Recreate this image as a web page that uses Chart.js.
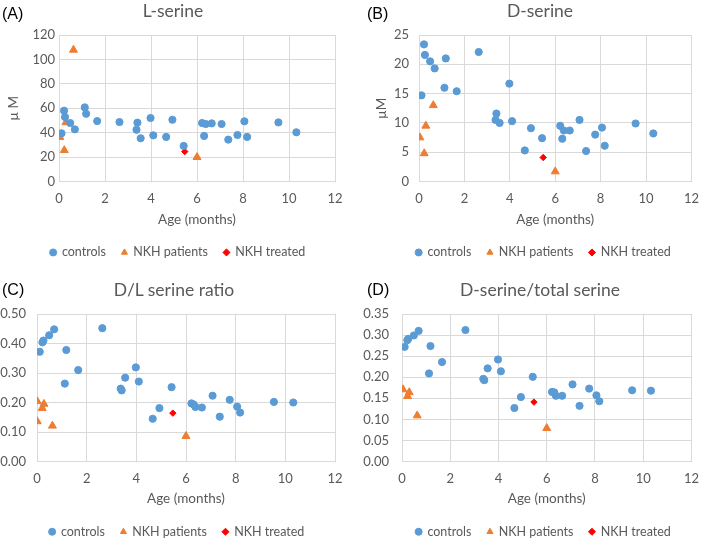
<!DOCTYPE html>
<html>
<head>
<meta charset="utf-8">
<script src="https://cdn.jsdelivr.net/npm/chart.js@4/dist/chart.umd.min.js"></script>
<style>
  body { margin: 0; width: 709px; height: 540px; overflow: hidden; background: #fff; position: relative; }
  .panel { position: absolute; overflow: hidden; }
  .panel canvas { position: absolute; left: 0; top: 0; }
  .tag { position: absolute; font: 16px "Liberation Sans", Arial, sans-serif; color: #000; transform: translateY(-50%); }
  .ttl { position: absolute; font: 17.5px Lato, sans-serif; color: #595959; transform: translate(-50%, -50%); white-space: nowrap; }
</style>
</head>
<body>

<div class="panel" style="left:0;top:0;width:354px;height:270px"><canvas id="chartA" width="354" height="270"></canvas></div>
<div class="panel" style="left:354px;top:0;width:355px;height:270px"><canvas id="chartB" width="355" height="270"></canvas></div>
<div class="panel" style="left:0;top:270px;width:354px;height:270px"><canvas id="chartC" width="354" height="278"></canvas></div>
<div class="panel" style="left:354px;top:270px;width:355px;height:270px"><canvas id="chartD" width="355" height="278"></canvas></div>

<div class="tag" style="left:2px;top:14px">(A)</div>
<div class="tag" style="left:367px;top:14px">(B)</div>
<div class="tag" style="left:2px;top:290px">(C)</div>
<div class="tag" style="left:367px;top:290px">(D)</div>

<div class="ttl" style="left:173px;top:10px">L-serine</div>
<div class="ttl" style="left:540px;top:10px">D-serine</div>
<div class="ttl" style="left:174px;top:289px">D/L serine ratio</div>
<div class="ttl" style="left:540px;top:289px">D-serine/total serine</div>

<script>
// Age (months) of the control subjects, same people in every panel
const controlAges = [0.11, 0.22, 0.26, 0.49, 0.69, 1.12, 1.18, 1.66, 2.63, 3.37, 3.41, 3.55, 3.98, 4.10,
  4.66, 4.93, 5.42, 6.22, 6.31, 6.38, 6.64, 7.07, 7.36, 7.76, 8.06, 8.18, 9.54, 10.32];
const nkhAges = [0.04, 0.23, 0.30, 0.63, 6.0];
const nkhAgesRatio = [0.01, 0.01, 0.21, 0.28, 0.62, 6.0]; // panel C shows one extra point
const treatedAge = [5.47];

// (A) L-serine, µM
const lSerineControls = [39.5, 58.0, 52.8, 47.9, 42.7, 60.7, 55.5, 49.5, 48.7, 42.4, 48.2, 35.4, 52.0, 37.8,
  36.5, 50.6, 29.1, 47.9, 37.3, 47.1, 47.6, 47.1, 34.3, 38.1, 49.3, 36.5, 48.4, 40.3];
const lSerineNkh = [36.2, 25.6, 48.4, 107.8, 19.9];
const lSerineTreated = [24.5];

// (B) D-serine, µM
const dSerineControls = [14.7, 23.4, 21.6, 20.5, 19.3, 16.0, 21.0, 15.4, 22.1, 10.5, 11.6, 10.0, 16.7, 10.3,
  5.3, 9.1, 7.4, 9.5, 7.3, 8.7, 8.7, 10.5, 5.2, 8.0, 9.2, 6.1, 9.9, 8.2];
const dSerineNkh = [7.5, 4.8, 9.5, 13.0, 1.7];
const dSerineTreated = [4.1];

// (C) D/L ratio
const ratioControls = [0.372, 0.404, 0.410, 0.428, 0.448, 0.264, 0.378, 0.310, 0.452, 0.247, 0.241, 0.284, 0.319, 0.271,
  0.145, 0.181, 0.252, 0.197, 0.193, 0.185, 0.183, 0.223, 0.152, 0.209, 0.186, 0.166, 0.202, 0.200];
const ratioNkh = [0.204, 0.136, 0.181, 0.195, 0.121, 0.086];
const ratioTreated = [0.164];

// (D) D-serine / total serine
const fracControls = [0.272, 0.288, 0.291, 0.299, 0.310, 0.209, 0.274, 0.236, 0.312, 0.196, 0.193, 0.221, 0.242, 0.214,
  0.127, 0.153, 0.201, 0.165, 0.164, 0.156, 0.156, 0.183, 0.132, 0.173, 0.157, 0.143, 0.169, 0.168];
const fracNkh = [0.171, 0.155, 0.164, 0.109, 0.079];
const fracTreated = [0.141];

const seriesNames = ["controls", "NKH patients", "NKH treated"];
const xTicks = [0, 2, 4, 6, 8, 10, 12];

const gray = "#595959";
const gridColor = "#D9D9D9";
const tickFont = { family: "Lato, sans-serif", size: 13 };
const titleFont = { family: "Lato, sans-serif", size: 13.5 };
const legendFont = { family: "Lato, sans-serif", size: 12.5 };

function pts(xs, ys) {
  return ys.map((y, i) => ({ x: xs[i], y: y }));
}

// Build one panel
function makePanel(id, p) {
  // the legend sits centred on the whole panel, not on the padded area
  const shiftLegend = {
    id: "shiftLegend",
    afterLayout(chart) {
      chart.legend.left += p.legendDx;
      chart.legend.right += p.legendDx;
    }
  };

  new Chart(document.getElementById(id), {
    type: "scatter",
    data: {
      datasets: [
        { label: seriesNames[0], data: pts(controlAges, p.controls), pointStyle: "circle", pointRadius: 3.6,
          backgroundColor: "#5B9BD5", borderColor: "#5B9BD5", borderWidth: 1 },
        { label: seriesNames[1], data: pts(p.nkhX, p.nkh), pointStyle: "triangle", pointRadius: 4.6,
          backgroundColor: "#ED7D31", borderColor: "#ED7D31", borderWidth: 1 },
        { label: seriesNames[2], data: pts(treatedAge, p.treated), pointStyle: "rectRot", pointRadius: 3.2,
          backgroundColor: "#FF0000", borderColor: "#FF0000", borderWidth: 1 }
      ]
    },
    plugins: [shiftLegend],
    options: {
      responsive: false,
      animation: false,
      layout: { padding: { top: p.padTop, left: 0, right: p.padRight, bottom: p.padBottom } },
      plugins: {
        tooltip: { enabled: false },
        legend: {
          position: "bottom",
          labels: { usePointStyle: true, boxWidth: 5, boxHeight: 5, padding: 16, color: gray, font: legendFont }
        }
      },
      scales: {
        x: {
          type: "linear", min: 0, max: 12,
          afterBuildTicks: axis => { axis.ticks = xTicks.map(v => ({ value: v })); },
          afterFit: axis => { axis.height = p.xHeight; },
          grid: { color: gridColor, drawTicks: false },
          border: { color: gridColor },
          ticks: { color: gray, font: tickFont, padding: 10 },
          title: { display: true, text: "Age (months)", color: gray, font: titleFont, padding: { top: 0, bottom: p.xTitlePad } }
        },
        y: {
          min: 0, max: p.yMax,
          afterBuildTicks: axis => { axis.ticks = p.yTicks.map(v => ({ value: v })); },
          afterFit: axis => { axis.width = p.yWidth; },
          grid: { color: gridColor, drawTicks: false },
          border: { color: gridColor },
          ticks: { color: gray, font: tickFont, padding: p.yPad, callback: v => v.toFixed(p.dec) },
          title: { display: !!p.yTitle, text: p.yTitle, color: gray, font: titleFont, padding: { top: p.yTitlePad, bottom: 0 } }
        }
      }
    }
  });
}

makePanel("chartA", {
  controls: lSerineControls, nkhX: nkhAges, nkh: lSerineNkh, treated: lSerineTreated,
  yMax: 120, yTicks: [0, 20, 40, 60, 80, 100, 120], dec: 0, yTitle: "µ M",
  padTop: 35, padRight: 19, padBottom: 1.3, xHeight: 48.7, xTitlePad: 2.6, yWidth: 59, yPad: 4, yTitlePad: 5.9,
  legendDx: 10.5
});
makePanel("chartB", {
  controls: dSerineControls, nkhX: nkhAges, nkh: dSerineNkh, treated: dSerineTreated,
  yMax: 25, yTicks: [0, 5, 10, 15, 20, 25], dec: 0, yTitle: "µM",
  padTop: 35, padRight: 7, padBottom: 1.3, xHeight: 48.7, xTitlePad: 2.6, yWidth: 65, yPad: 10, yTitlePad: 19.9,
  legendDx: 15.5
});
makePanel("chartC", {
  controls: ratioControls, nkhX: nkhAgesRatio, nkh: ratioNkh, treated: ratioTreated,
  yMax: 0.5, yTicks: [0, 0.1, 0.2, 0.3, 0.4, 0.5], dec: 2, yTitle: "",
  padTop: 44, padRight: 19, padBottom: 0, xHeight: 48, xTitlePad: 2.9, yWidth: 37, yPad: 11, yTitlePad: 0,
  legendDx: 9.5
});
makePanel("chartD", {
  controls: fracControls, nkhX: nkhAges, nkh: fracNkh, treated: fracTreated,
  yMax: 0.35, yTicks: [0, 0.05, 0.1, 0.15, 0.2, 0.25, 0.3, 0.35], dec: 2, yTitle: "",
  padTop: 44, padRight: 7, padBottom: 0, xHeight: 48, xTitlePad: 2.9, yWidth: 48, yPad: 13, yTitlePad: 0,
  legendDx: 15.5
});
</script>
</body>
</html>
